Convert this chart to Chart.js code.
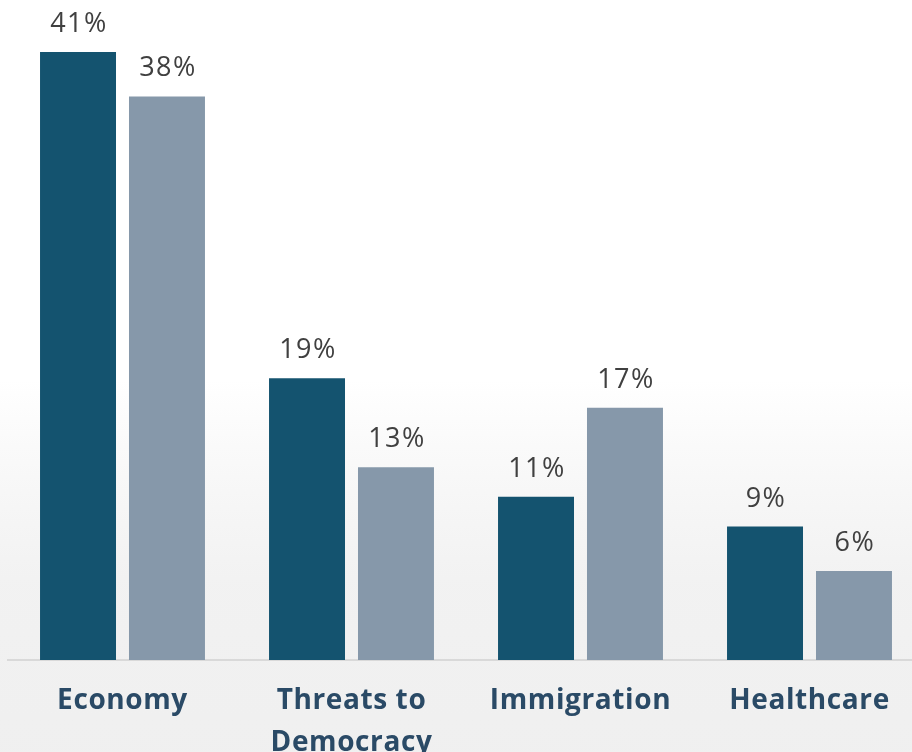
<!DOCTYPE html>
<html>
<head>
<meta charset="utf-8">
<script src="https://cdn.jsdelivr.net/npm/chart.js@4.4.1/dist/chart.umd.min.js"></script>
<style>
  html, body { margin: 0; padding: 0; overflow: hidden; background: #ffffff; }
  #wrap { position: absolute; left: 0; top: 0; width: 924px; height: 752px; }
</style>
</head>
<body>
<div id="wrap"><canvas id="c" width="924" height="752"></canvas></div>
<script>
const categories = [["Economy"], ["Threats to", "Democracy"], ["Immigration"], ["Healthcare"]];
const seriesA = [41, 19, 11, 9];
const seriesB = [38, 13, 17, 6];
const seriesNames = ["Series A", "Series B"];
const colorA = "#14536f";
const colorB = "#8698aa";

const bgPlugin = {
  id: "bg",
  beforeDraw(chart) {
    const ctx = chart.ctx;
    const w = chart.width, h = chart.height;
    ctx.save();
    ctx.fillStyle = "#ffffff";
    ctx.fillRect(0, 0, w, h);
    const g = ctx.createLinearGradient(0, 380, 0, h);
    g.addColorStop(0, "rgba(232,232,232,0)");
    g.addColorStop(0.55, "rgba(236,236,236,0.7)");
    g.addColorStop(1, "rgba(238,238,238,0.9)");
    ctx.fillStyle = g;
    ctx.fillRect(0, 380, w, h - 380);
    ctx.restore();
    ctx.letterSpacing = "0.6px";
  }
};

const labelPlugin = {
  id: "vals",
  afterDatasetsDraw(chart) {
    const ctx = chart.ctx;
    ctx.save();
    ctx.letterSpacing = "1.5px";
    ctx.font = "400 27px 'Open Sans'";
    ctx.fillStyle = "#404040";
    ctx.textAlign = "center";
    ctx.textBaseline = "alphabetic";
    chart.data.datasets.forEach((ds, di) => {
      chart.getDatasetMeta(di).data.forEach((bar, i) => {
        ctx.fillText(ds.data[i] + "%", bar.x + 1, bar.y - 20);
      });
    });
    ctx.restore();
  }
};

new Chart(document.getElementById("c"), {
  type: "bar",
  data: {
    labels: categories,
    datasets: [
      { label: seriesNames[0], data: seriesA, backgroundColor: colorA, barPercentage: 0.854, categoryPercentage: 0.777 },
      { label: seriesNames[1], data: seriesB, backgroundColor: colorB, barPercentage: 0.854, categoryPercentage: 0.777 }
    ]
  },
  options: {
    responsive: false,
    animation: false,
    devicePixelRatio: 1,
    layout: { padding: { left: 8, right: 0, top: 0, bottom: 0 } },
    plugins: { legend: { display: false }, tooltip: { enabled: false } },
    scales: {
      y: { display: false, min: 0, max: 44.5 },
      x: {
        grid: { display: false, drawTicks: false },
        border: { display: true, color: "#d9d9d9", width: 2 },
        ticks: {
          color: "#2a4a66",
          font: { family: "'Open Sans'", size: 28, weight: "bold", lineHeight: 1.5 },
          padding: 20,
          maxRotation: 0,
          autoSkip: false
        },
        afterFit(scale) { scale.height = 92; }
      }
    }
  },
  plugins: [bgPlugin, labelPlugin]
});
</script>
</body>
</html>
